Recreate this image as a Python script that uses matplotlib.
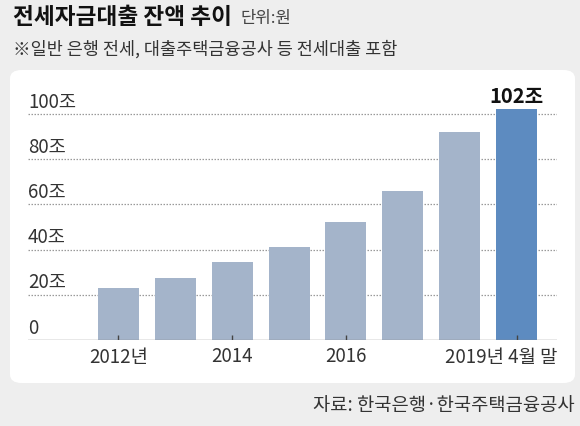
import matplotlib
matplotlib.use("Agg")
import matplotlib.pyplot as plt
from matplotlib.patches import FancyBboxPatch

plt.rcParams['font.family'] = ['Noto Sans CJK KR', 'DejaVu Sans']

# 전세자금대출 잔액 (조원)
positions = [0, 1, 2, 3, 4, 5, 6, 7]
balances = [23, 27.5, 34.5, 41, 52, 66, 92, 102]
tick_pos = [0, 2, 4, 7]
tick_labels = ["2012년", "2014", "2016", "2019년 4월 말"]
y_ticks = [0, 20, 40, 60, 80, 100]
y_labels = ["0", "20조", "40조", "60조", "80조", "100조"]

W, H = 580, 426
fig = plt.figure(figsize=(W / 100, H / 100), dpi=100)
fig.patch.set_facecolor("#eeeeee")

# 흰색 패널
panel = FancyBboxPatch((10 / W, (H - 383) / H), 565 / W, 313 / H,
                       boxstyle="round,pad=0,rounding_size=0.02",
                       transform=fig.transFigure, facecolor="white",
                       edgecolor="none", zorder=-1)
fig.patches.append(panel)

ax = fig.add_axes([28 / W, (H - 340) / H, (557 - 28) / W, 260 / H])
ax.set_facecolor("none")
ax.set_zorder(2)

colors = ["#a4b4ca"] * (len(balances) - 1) + ["#5d8bc0"]
ax.bar(positions, balances, width=0.72, color=colors, zorder=2)

ax.set_xlim(-1.59, 7.71)
ax.set_ylim(0, 115)

for v, lab in zip(y_ticks, y_labels):
    if v > 0:
        ax.axhline(v, color="#9a9a9a", lw=0.9, ls=(0, (1.2, 1.2)), zorder=1)
    ax.text(0, v + 0.6, lab, transform=ax.get_yaxis_transform(),
            ha="left", va="bottom", fontsize=13.5, color="#333333")

ax.axhline(0, color="#8a8a8a", lw=1.0, zorder=3)

for s in ax.spines.values():
    s.set_visible(False)
ax.set_yticks([])
ax.set_xticks([])
for p in tick_pos:
    ax.vlines(p, 0, 2.2, color="#444444", lw=1.0, zorder=4)

for p, lab in zip(tick_pos, tick_labels):
    if p == tick_pos[-1]:
        ax.text(1.0, -0.025, lab, transform=ax.transAxes, ha="right", va="top",
                fontsize=13.5, color="#333333")
    else:
        ax.text(p, -0.025, lab, transform=ax.get_xaxis_transform(), ha="center",
                va="top", fontsize=13.5, color="#333333")

ax.text(positions[-1], balances[-1] + 1.2, f"{balances[-1]}조", ha="center",
        va="bottom", fontsize=14.5, fontweight="bold", color="#111111")

fig.text(13 / W, 1 - 18 / H, "전세자금대출 잔액 추이", fontsize=16.3, fontweight="bold",
         color="#111111", va="center", ha="left")
fig.text(240 / W, 1 - 19 / H, "단위:원", fontsize=12, color="#444444",
         va="center", ha="left")
fig.text(13 / W, 1 - 49 / H, "※일반 은행 전세, 대출주택금융공사 등 전세대출 포함",
         fontsize=12.6, color="#333333", va="center", ha="left")
fig.text(575 / W, 1 - 406 / H, "자료: 한국은행·한국주택금융공사", fontsize=13.5,
         color="#333333", va="center", ha="right")

fig.savefig("out.png", dpi=100, facecolor=fig.get_facecolor())
